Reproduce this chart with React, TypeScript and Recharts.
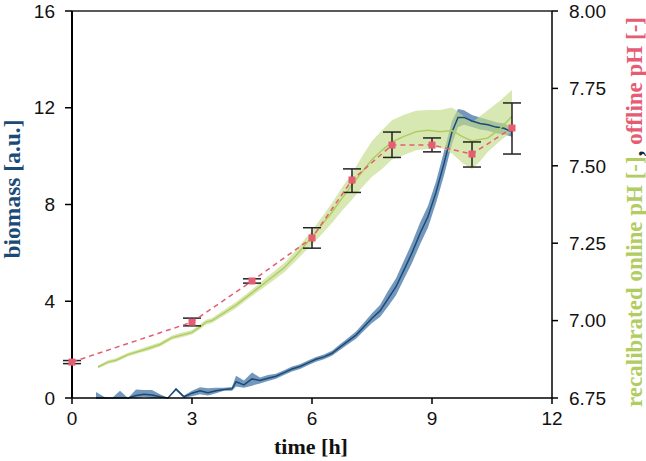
import React from 'react';
import { ComposedChart, Line, Area, XAxis, YAxis, ErrorBar, ReferenceLine, Label } from 'recharts';

// ---- biomass (left axis) ----
const biomassTime = [0.6, 0.8, 1.0, 1.2, 1.4, 1.6, 1.8, 2.0, 2.2, 2.4, 2.6, 2.8, 3.0, 3.2, 3.4, 3.6, 3.8, 4.0, 4.1, 4.3, 4.5, 4.7, 4.9, 5.1, 5.3, 5.5, 5.7, 5.9, 6.1, 6.3, 6.5, 6.7, 6.9, 7.1, 7.3, 7.5, 7.7, 7.9, 8.1, 8.3, 8.5, 8.7, 8.9, 9.1, 9.3, 9.5, 9.65, 9.8, 10.0, 10.2, 10.4, 10.6, 10.8, 11.0];
const biomassMean = [0.0, 0.0, 0.0, 0.0, 0.0, 0.1, 0.15, 0.12, 0.05, 0.0, 0.37, 0.05, 0.2, 0.3, 0.22, 0.3, 0.35, 0.38, 0.67, 0.54, 0.79, 0.72, 0.82, 0.9, 1.05, 1.2, 1.3, 1.45, 1.6, 1.7, 1.85, 2.1, 2.35, 2.6, 2.95, 3.3, 3.6, 4.1, 4.6, 5.3, 6.0, 6.8, 7.5, 8.5, 9.7, 11.0, 11.6, 11.6, 11.45, 11.35, 11.3, 11.2, 11.15, 11.0];
const biomassLow = [0.0, 0.0, 0.0, 0.0, 0.0, 0.0, 0.05, 0.0, 0.0, 0.0, 0.3, 0.0, 0.07, 0.15, 0.1, 0.2, 0.3, 0.3, 0.48, 0.42, 0.51, 0.6, 0.7, 0.8, 0.95, 1.1, 1.2, 1.35, 1.5, 1.6, 1.75, 1.98, 2.22, 2.45, 2.78, 3.1, 3.35, 3.78, 4.25, 4.92, 5.58, 6.35, 7.05, 8.05, 9.2, 10.5, 11.2, 11.3, 11.2, 11.1, 11.05, 10.95, 10.9, 10.8];
const biomassHigh = [0.25, 0.05, 0.0, 0.3, 0.0, 0.35, 0.33, 0.33, 0.15, 0.0, 0.42, 0.1, 0.3, 0.44, 0.4, 0.42, 0.42, 0.45, 0.92, 0.72, 1.05, 0.85, 0.95, 1.0, 1.15, 1.3, 1.4, 1.55, 1.7, 1.8, 1.95, 2.22, 2.48, 2.75, 3.12, 3.5, 3.85, 4.42, 4.95, 5.68, 6.42, 7.25, 7.95, 8.95, 10.2, 11.45, 11.95, 11.9, 11.7, 11.6, 11.5, 11.4, 11.35, 11.2];

// ---- recalibrated online pH (right axis) ----
const onlineTime = [0.65, 0.9, 1.1, 1.4, 1.7, 1.9, 2.2, 2.5, 2.7, 3.0, 3.2, 3.35, 3.5, 3.8, 4.1, 4.4, 4.7, 5.0, 5.3, 5.6, 5.8, 6.0, 6.25, 6.5, 6.75, 7.0, 7.25, 7.5, 7.75, 8.0, 8.3, 8.6, 8.9, 9.2, 9.5, 9.75, 10.0, 10.2, 10.4, 10.7, 11.0];
const onlineMean = [6.85, 6.866, 6.872, 6.89, 6.902, 6.91, 6.923, 6.945, 6.952, 6.962, 6.98, 6.995, 7.0, 7.025, 7.05, 7.08, 7.11, 7.14, 7.17, 7.21, 7.24, 7.27, 7.31, 7.35, 7.395, 7.438, 7.48, 7.52, 7.55, 7.577, 7.595, 7.61, 7.615, 7.61, 7.614, 7.595, 7.58, 7.585, 7.59, 7.62, 7.66];
const onlineLow = [6.845, 6.86, 6.866, 6.884, 6.896, 6.903, 6.916, 6.938, 6.945, 6.955, 6.972, 6.987, 6.992, 7.016, 7.04, 7.07, 7.098, 7.126, 7.155, 7.193, 7.22, 7.245, 7.28, 7.315, 7.355, 7.39, 7.43, 7.465, 7.49, 7.52, 7.535, 7.55, 7.555, 7.56, 7.54, 7.51, 7.49, 7.515, 7.545, 7.58, 7.61];
const onlineHigh = [6.855, 6.872, 6.878, 6.896, 6.908, 6.917, 6.93, 6.952, 6.96, 6.97, 6.988, 7.003, 7.008, 7.034, 7.06, 7.09, 7.122, 7.154, 7.185, 7.227, 7.26, 7.29, 7.335, 7.38, 7.43, 7.475, 7.53, 7.58, 7.615, 7.647, 7.665, 7.678, 7.68, 7.68, 7.688, 7.665, 7.64, 7.66, 7.68, 7.71, 7.745];

// ---- offline pH (right axis) ----
const offlineTime = [0, 3, 4.5, 6, 7, 8, 9, 10, 11];
const offlineValue = [6.866, 6.995, 7.128, 7.267, 7.454, 7.567, 7.567, 7.538, 7.622];
const offlineErrLow = [0.005, 0.012, 0.007, 0.033, 0.04, 0.04, 0.022, 0.042, 0.084];
const offlineErrHigh = [0.005, 0.013, 0.007, 0.033, 0.036, 0.042, 0.023, 0.039, 0.081];

// ---- ticks ----
const xTicks = [0, 3, 6, 9, 12];
const biomassTicks = [0, 4, 8, 12, 16];
const phTicks = [6.75, 7.0, 7.25, 7.5, 7.75, 8.0];

const biomassData = biomassTime.map((t, i) => ({ t, mean: biomassMean[i], range: [biomassLow[i], biomassHigh[i]] }));
const onlineData = onlineTime.map((t, i) => ({ t, mean: onlineMean[i], range: [onlineLow[i], onlineHigh[i]] }));
const offlineData = offlineTime.map((t, i) => ({ t, v: offlineValue[i], err: [offlineErrLow[i], offlineErrHigh[i]] }));

const BLUE = '#1b4a77';
const BLUE_BAND = '#5a86b0';
const GREEN = '#b1cd62';
const GREEN_BAND = '#c3dc88';
const RED = '#e65c73';
const tickFont = { fontSize: 19, fill: '#111', fontFamily: 'Liberation Sans, Arial, sans-serif' };
const titleFont = 'Liberation Serif, Times New Roman, serif';

const SquareDot = (props: any) => {
  const { cx, cy, index } = props;
  if (cx == null || cy == null) return <g key={`d${index}`} />;
  return <rect key={`d${index}`} x={cx - 3.5} y={cy - 3.5} width={7} height={7} fill={RED} />;
};

export default function App() {
  return (
    <div style={{ position: 'absolute', left: 0, top: 0, background: '#fff' }}>
      <ComposedChart width={646} height={461} margin={{ top: 11, right: 0, bottom: 0, left: 0 }}>
        <XAxis
          dataKey="t"
          type="number"
          domain={[0, 12]}
          ticks={xTicks}
          allowDuplicatedCategory={false}
          height={63}
          tickSize={6}
          tickMargin={8}
          tick={tickFont}
          axisLine={{ stroke: '#000', strokeWidth: 1.5 }}
          tickLine={{ stroke: '#000', strokeWidth: 1.5 }}
        >
          <Label
            content={() => (
              <text x={311} y={454} textAnchor="middle" fontFamily={titleFont} fontWeight="bold" fontSize={22} fill="#111">
                time [h]
              </text>
            )}
          />
        </XAxis>
        <YAxis
          yAxisId="left"
          orientation="left"
          domain={[0, 16]}
          ticks={biomassTicks}
          width={72}
          tickSize={7}
          tickMargin={10}
          tick={tickFont}
          axisLine={{ stroke: '#000', strokeWidth: 2 }}
          tickLine={{ stroke: '#000', strokeWidth: 1.5 }}
        >
          <Label
            content={() => (
              <text
                x={20}
                y={189}
                transform="rotate(-90 20 189)"
                textAnchor="middle"
                fontFamily={titleFont}
                fontWeight="bold"
                fontSize={23.5}
                fill={BLUE}
              >
                biomass [a.u.]
              </text>
            )}
          />
        </YAxis>
        <YAxis
          yAxisId="right"
          orientation="right"
          domain={[6.75, 8.0]}
          ticks={phTicks}
          tickFormatter={(v: number) => v.toFixed(2)}
          width={94}
          tickSize={6}
          tickMargin={11}
          tick={tickFont}
          axisLine={{ stroke: '#000', strokeWidth: 1.5 }}
          tickLine={{ stroke: '#000', strokeWidth: 1.5 }}
        >
          <Label
            content={() => (
              <text
                x={642}
                y={212}
                transform="rotate(-90 642 212)"
                textAnchor="middle"
                fontFamily={titleFont}
                fontWeight="bold"
                fontSize={23}
              >
                <tspan fill={GREEN}>recalibrated online pH [-]</tspan>
                <tspan fill="#222">, </tspan>
                <tspan fill={RED}>offline pH [-]</tspan>
              </text>
            )}
          />
        </YAxis>
        <ReferenceLine yAxisId="left" y={16} stroke="#222" strokeWidth={1.5} />

        <Area
          yAxisId="left"
          data={biomassData}
          dataKey="range"
          type="linear"
          stroke="none"
          fill={BLUE_BAND}
          fillOpacity={0.85}
          isAnimationActive={false}
          activeDot={false}
        />
        <Line
          yAxisId="left"
          data={biomassData}
          dataKey="mean"
          type="linear"
          stroke={BLUE}
          strokeWidth={1.5}
          dot={false}
          isAnimationActive={false}
        />
        <Area
          yAxisId="right"
          data={onlineData}
          dataKey="range"
          type="linear"
          stroke="none"
          fill={GREEN_BAND}
          fillOpacity={0.65}
          isAnimationActive={false}
          activeDot={false}
        />
        <Line
          yAxisId="right"
          data={onlineData}
          dataKey="mean"
          type="linear"
          stroke={GREEN}
          strokeWidth={1.5}
          dot={false}
          isAnimationActive={false}
        />
        <Line
          yAxisId="right"
          data={offlineData}
          dataKey="v"
          type="linear"
          stroke={RED}
          strokeWidth={1.5}
          strokeDasharray="5 4"
          dot={SquareDot}
          isAnimationActive={false}
        >
          <ErrorBar dataKey="err" width={9} strokeWidth={1.5} stroke="#222" direction="y" />
        </Line>
      </ComposedChart>
    </div>
  );
}
